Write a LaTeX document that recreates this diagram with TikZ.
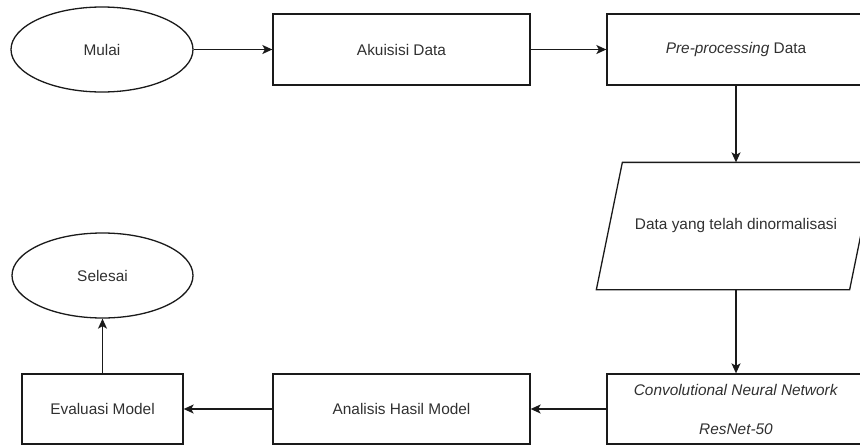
\documentclass[tikz,border=0pt]{standalone}
\usepackage{fontspec}
\setmainfont{Liberation Sans}
\usetikzlibrary{shapes.geometric,arrows.meta}
\definecolor{txt}{HTML}{303030}
\definecolor{ln}{HTML}{1A1A1A}
\tikzset{
  base/.style={draw=ln, line width=1.3pt, text=txt, font=\fontsize{15.4}{18}\selectfont, inner sep=0pt, align=center},
  procbox/.style={base, rectangle, minimum height=71pt},
  term/.style={base, ellipse, minimum width=182pt, minimum height=85pt},
  conn/.style={draw=ln, line width=1.3pt, -{Stealth[length=10pt,width=9pt,inset=2.5pt]}}
}
\begin{document}
\begin{tikzpicture}[x=1pt,y=-1pt]
\useasboundingbox (0,0) rectangle (860,445);
\clip (0,0) rectangle (860,445);
\node[term] (mulai) at (102,49.5) {Mulai};
\node[procbox, minimum width=257pt] (akuisisi) at (401.5,49.5) {Akuisisi Data};
\node[procbox, minimum width=258pt] (pre) at (736,49.5) {\textit{Pre-processing} Data};
\node[base, draw=none, rectangle, minimum width=252pt, minimum height=126pt] (data) at (736,226) {Data yang telah dinormalisasi};
\draw[draw=ln, line width=1.3pt] ([xshift=13pt]data.north west) -- ([xshift=13pt]data.north east) -- ([xshift=-13pt]data.south east) -- ([xshift=-13pt]data.south west) -- cycle;
\node[procbox, minimum width=258pt, minimum height=70pt] (cnn) at (736,409) {\textit{Convolutional Neural Network}\\[21pt]\textit{ResNet-50}};
\node[procbox, minimum width=257pt, minimum height=70pt] (analisis) at (401.5,409) {Analisis Hasil Model};
\node[procbox, minimum width=161pt, minimum height=70pt] (evaluasi) at (102.5,409) {Evaluasi Model};
\node[term, minimum width=181pt] (selesai) at (102.5,275.5) {Selesai};
\draw[conn] (mulai) -- (akuisisi);
\draw[conn] (akuisisi) -- (pre);
\draw[conn] (pre.south) -- (data.north);
\draw[conn] (data.south) -- (cnn.north);
\draw[conn] (cnn) -- (analisis);
\draw[conn] (analisis) -- (evaluasi);
\draw[conn] (evaluasi) -- (selesai);
\end{tikzpicture}
\end{document}
